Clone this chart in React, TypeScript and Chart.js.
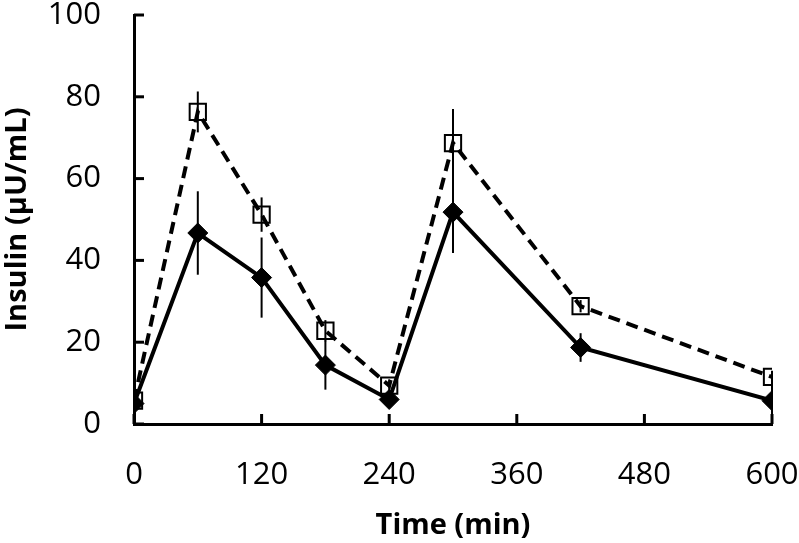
import React, { useEffect, useRef } from "react";
import { Chart, registerables } from "chart.js";

Chart.register(...registerables);

const times = [0, 60, 120, 180, 240, 300, 420, 600];
const solidValues = [5, 46.7, 35.8, 14.4, 6, 51.8, 18.7, 5.7];
const solidErrors = [1, 10.2, 9.8, 6, 1, 10, 3.5, 5.5];
const dashedValues = [5.7, 76.3, 51.2, 22.8, 9.4, 68.7, 28.8, 11.5];
const dashedErrors = [1, 5, 4.2, 2.6, 1.5, 8.3, 1.5, 1.5];
const xTicks = [0, 120, 240, 360, 480, 600];
const yTicks = [0, 20, 40, 60, 80, 100];

const FONT = "'Open Sans', 'DejaVu Sans', sans-serif";

const errorBarPlugin = {
  id: "errorBars",
  beforeDatasetsDraw(chart: any) {
    const { ctx, scales } = chart;
    const xs = scales.x;
    const ys = scales.y;
    ctx.save();
    ctx.strokeStyle = "#000";
    ctx.lineWidth = 2;
    const series = [
      { v: solidValues, e: solidErrors },
      { v: dashedValues, e: dashedErrors },
    ];
    series.forEach((s) => {
      times.forEach((t, i) => {
        const px = xs.getPixelForValue(t);
        const top = ys.getPixelForValue(s.v[i] + s.e[i]);
        const bot = ys.getPixelForValue(Math.max(0, s.v[i] - s.e[i]));
        ctx.beginPath();
        ctx.moveTo(px, top);
        ctx.lineTo(px, bot);
        ctx.stroke();
      });
    });
    ctx.restore();
  },
};

const innerTicksPlugin = {
  id: "innerTicks",
  afterDatasetsDraw(chart: any) {
    const { ctx, scales, chartArea } = chart;
    ctx.save();
    ctx.strokeStyle = "#000";
    ctx.lineWidth = 3;
    xTicks.forEach((t) => {
      const px = scales.x.getPixelForValue(t);
      ctx.beginPath();
      ctx.moveTo(px, chartArea.bottom);
      ctx.lineTo(px, chartArea.bottom - 10);
      ctx.stroke();
    });
    yTicks.forEach((t) => {
      const py = scales.y.getPixelForValue(t);
      ctx.beginPath();
      ctx.moveTo(chartArea.left, py);
      ctx.lineTo(chartArea.left + 10, py);
      ctx.stroke();
    });
    ctx.restore();
  },
};

export default function App() {
  const ref = useRef<HTMLCanvasElement | null>(null);
  useEffect(() => {
    if (!ref.current) return;
    const chart = new Chart(ref.current, {
      type: "line",
      data: {
        datasets: [
          {
            label: "solid",
            data: times.map((t, i) => ({ x: t, y: solidValues[i] })),
            borderColor: "#000",
            borderWidth: 4,
            pointStyle: "rectRot",
            pointRadius: 10,
            pointBackgroundColor: "#000",
            pointBorderColor: "#000",
            pointBorderWidth: 1,
            tension: 0,
          },
          {
            label: "dashed",
            data: times.map((t, i) => ({ x: t, y: dashedValues[i] })),
            borderColor: "#000",
            borderWidth: 4,
            borderDash: [12, 7],
            pointStyle: "rect",
            pointRadius: 11.5,
            pointBackgroundColor: "rgba(0,0,0,0)",
            pointBorderColor: "#000",
            pointBorderWidth: 2,
            tension: 0,
          },
        ],
      },
      plugins: [errorBarPlugin, innerTicksPlugin],
      options: {
        animation: false,
        responsive: true,
        maintainAspectRatio: false,
        layout: { padding: { top: 15, right: 27, left: 0, bottom: 0 } },
        plugins: { legend: { display: false }, tooltip: { enabled: false } },
        scales: {
          x: {
            type: "linear",
            min: 0,
            max: 600,
            afterBuildTicks: (s: any) => {
              s.ticks = xTicks.map((v) => ({ value: v }));
            },
            afterFit: (s: any) => {
              s.height = 119;
              s.paddingLeft = 0;
              s.paddingRight = 0;
              s.paddingTop = 0;
              s.paddingBottom = 0;
            },
            grid: { display: true, drawOnChartArea: false, drawTicks: false },
            border: { display: true, color: "#000", width: 3 },
            ticks: {
              color: "#000",
              padding: 33,
              maxRotation: 0,
              autoSkip: false,
              font: { family: FONT, size: 31 },
            },
            title: {
              display: true,
              text: "Time (min)",
              color: "#000",
              padding: { top: 0, bottom: 0 },
              font: { family: FONT, size: 29, weight: "bold" },
            },
          },
          y: {
            type: "linear",
            min: 0,
            max: 100,
            afterBuildTicks: (s: any) => {
              s.ticks = yTicks.map((v) => ({ value: v }));
            },
            afterFit: (s: any) => {
              s.width = 134;
              s.paddingLeft = 0;
              s.paddingRight = 0;
              s.paddingTop = 0;
              s.paddingBottom = 0;
            },
            grid: { display: true, drawOnChartArea: false, drawTicks: false },
            border: { display: true, color: "#000", width: 3 },
            ticks: {
              color: "#000",
              padding: 33,
              font: { family: FONT, size: 31 },
            },
            title: {
              display: true,
              text: "Insulin (μU/mL)",
              color: "#000",
              padding: { top: 0, bottom: 0 },
              font: { family: FONT, size: 29, weight: "bold" },
            },
          },
        },
      },
    });
    return () => chart.destroy();
  }, []);
  return (
    <div style={{ position: "absolute", left: 0, top: 0, width: 799, height: 543, background: "#fff" }}>
      <canvas ref={ref} />
    </div>
  );
}
